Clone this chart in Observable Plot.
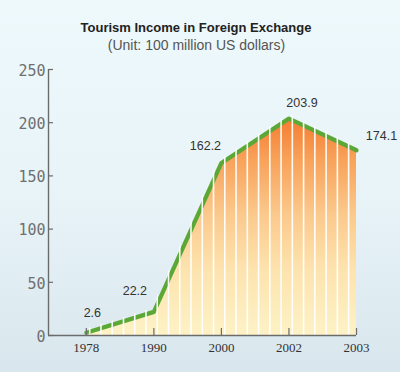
<!DOCTYPE html>
<html><head><meta charset="utf-8">
<script src="https://cdn.jsdelivr.net/npm/d3@7"></script>
<script src="https://cdn.jsdelivr.net/npm/@observablehq/plot@0.6"></script>
<style>
html,body{margin:0;padding:0;}
body{width:400px;height:372px;overflow:hidden;position:relative;
  background:linear-gradient(180deg,#eef9fc 0%,#e7f3f7 55%,#d9e6ed 100%);
  font-family:"Liberation Sans",Arial,sans-serif;}
#title{position:absolute;left:0;width:392px;top:21px;text-align:center;font-size:13px;line-height:13px;font-weight:bold;color:#222;white-space:nowrap;}
#subtitle{position:absolute;left:0;width:393px;top:38px;text-align:center;font-size:14px;line-height:14px;color:#555;white-space:nowrap;}
#chart{position:absolute;left:0;top:60px;}
</style></head>
<body>
<div id="title">Tourism Income in Foreign Exchange</div>
<div id="subtitle">(Unit: 100 million US dollars)</div>
<div id="chart"></div>
<script>
const years = ["1978", "1990", "2000", "2002", "2003"];
const income = [2.6, 22.2, 162.2, 203.9, 174.1];
const yTicks = [0, 50, 100, 150, 200, 250];

const data = years.map((year, i) => ({i, year, value: income[i]}));
const xIdx = d3.range(years.length);
const xMin = -0.56;
const stripes = d3.range(0.05 - 3 / 6, 4, 1 / 6);
const axisColor = "#6b6b6b";
const labelFont = {fontFamily: "Liberation Sans, Arial, sans-serif", fontSize: 12.5, fill: "#333"};

function label(year, dx, dy) {
  return Plot.text(data.filter(d => d.year === year), {x: "i", y: "value", text: d => d.value.toFixed(1), dx, dy, ...labelFont});
}

const plot = Plot.plot({
  width: 400,
  height: 312,
  marginLeft: 48,
  marginRight: 44,
  marginTop: 9,
  marginBottom: 37,
  style: {background: "transparent", overflow: "visible"},
  x: {type: "linear", domain: [xMin, 4], label: null},
  y: {domain: [0, 250], label: null},
  marks: [
    Plot.areaY(data, {x: "i", y: "value", fill: "url(#fillGrad)"}),
    Plot.line(data, {x: "i", y: "value", stroke: "#5ba836", strokeWidth: 4.2}),
    Plot.ruleX(stripes, {x: d => d, stroke: "white", strokeWidth: 1.6, strokeOpacity: 0.95}),
    label("1978", 6, -20),
    label("1990", -19, -21),
    label("2000", -16, -17),
    label("2002", 13, -15.5),
    label("2003", 25, -14),
    Plot.ruleY([0], {stroke: axisColor, strokeWidth: 1.4}),
    Plot.ruleX([xMin], {stroke: axisColor, strokeWidth: 1.4}),
    Plot.axisY(yTicks, {tickSize: -5, tickFormat: () => "", stroke: axisColor, strokeWidth: 1.2, label: null}),
    Plot.axisY(yTicks, {tickSize: 0, tickPadding: 3, dy: 1.5, fontFamily: "DejaVu Sans Mono, monospace", fontSize: 15, fill: "#707070", label: null}),
    Plot.axisX(xIdx, {tickSize: -7, tickFormat: () => "", stroke: axisColor, strokeWidth: 1.2, label: null}),
    Plot.axisX(xIdx, {tickSize: 0, tickPadding: 7, tickFormat: i => years[i], fontFamily: "Liberation Serif, Times New Roman, serif", fontSize: 13, fill: "#333", label: null})
  ]
});
document.getElementById("chart").appendChild(plot);

const svg = d3.select(plot);
const yS = plot.scale("y");
const defs = svg.insert("defs", ":first-child");
const grad = defs.append("linearGradient").attr("id", "fillGrad")
  .attr("gradientUnits", "userSpaceOnUse")
  .attr("x1", 0).attr("x2", 0)
  .attr("y1", yS.apply(206)).attr("y2", yS.apply(0));
[[0, "#f47a2e"], [0.2, "#f8a25a"], [0.45, "#fbc98c"], [0.7, "#fde3ae"], [1, "#fdf2c6"]]
  .forEach(([o, c]) => grad.append("stop").attr("offset", o).attr("stop-color", c));

const areaD = svg.select('g[aria-label="area"] path').attr("d");
const lineD = svg.select('g[aria-label="line"] path').attr("d");
const mask = defs.append("mask").attr("id", "stripeMask")
  .attr("maskUnits", "userSpaceOnUse").attr("x", 0).attr("y", 0).attr("width", 400).attr("height", 312);
mask.append("path").attr("d", areaD).attr("fill", "white");
mask.append("path").attr("d", lineD).attr("fill", "none").attr("stroke", "white").attr("stroke-width", 7);
svg.select('g[aria-label="rule"]').attr("mask", "url(#stripeMask)");
</script>
</body></html>
